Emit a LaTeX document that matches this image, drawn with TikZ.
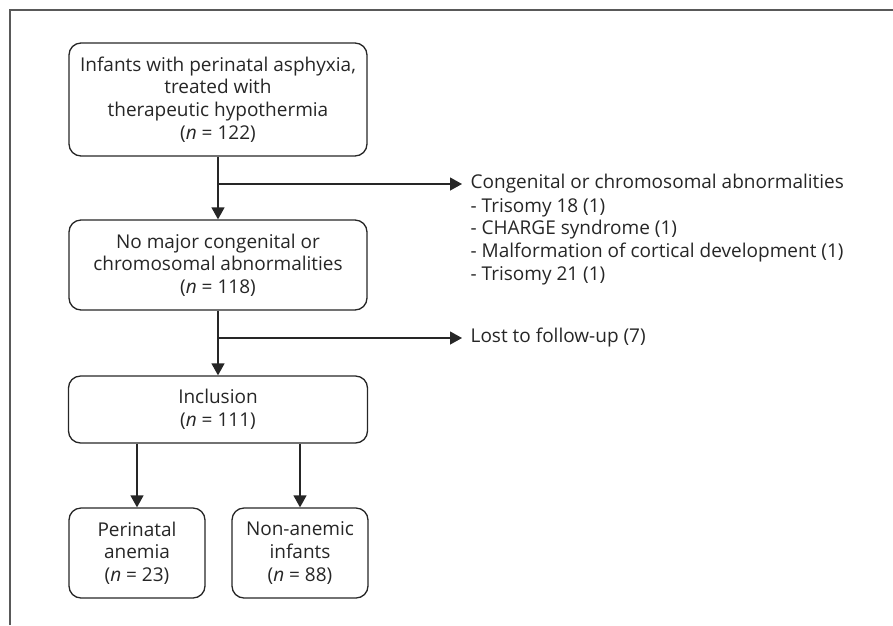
\documentclass[tikz,border=0pt]{standalone}
\usepackage{fontspec}
\setmainfont{Open Sans}
\usetikzlibrary{positioning}
\usetikzlibrary{arrows.meta}

\begin{document}
\begin{tikzpicture}[x=1pt, y=-1pt, line width=1.3pt, font=\fontsize{19}{22.7}\selectfont,
	box/.style={rounded corners=12pt, draw=black!85, align=center, inner sep=0pt, text=black!85},
	conn/.style={draw=black!85, -{Triangle[length=12pt, width=13pt]}},
	note/.style={align=left, inner sep=0pt, anchor=west, text=black!85}]
		\useasboundingbox (0,0) rectangle (893,625);
		\draw [black!65, line width=2pt] (10,625) -- (10,10) -- (893,10);
		% main column
		\node [box, minimum width=298pt, minimum height=113pt] (infants) at (218,99.5)
			{Infants with perinatal asphyxia,\\ treated with\\ therapeutic hypothermia\\ (\textit{n} = 122)};
		\node [box, minimum width=298pt, minimum height=90pt] (nomajor) at (218,265)
			{No major congenital or\\ chromosomal abnormalities\\ (\textit{n} = 118)};
		\node [box, minimum width=299pt, minimum height=67pt] (inclusion) at (218,409.5)
			{Inclusion\\ (\textit{n} = 111)};
		\node [box, minimum width=136pt, minimum height=90pt] (anemia) at (137,553)
			{Perinatal\\ anemia\\ (\textit{n} = 23)};
		\node [box, minimum width=136pt, minimum height=90pt] (nonanemic) at (300,553)
			{Non-anemic\\ infants\\ (\textit{n} = 88)};
		% side notes
		\node [note] (abnormal) at (470,184) {Congenital or chromosomal abnormalities};
		\node [note, anchor=north west, yshift=-3.5pt] (abnlist) at (abnormal.south west)
			{- Trisomy 18 (1)\\ - CHARGE syndrome (1)\\ - Malformation of cortical development (1)\\ - Trisomy 21 (1)};
		\node [note] (lost) at (470,338) {Lost to follow-up (7)};
		\coordinate (split1) at (infants.south |- abnormal.west);
		\coordinate (split2) at (nomajor.south |- lost.west);
		% connectors
		\draw [conn] (infants.south) -- (nomajor.north);
		\draw [conn, shorten >=8pt] (split1) -- (abnormal.west);
		\draw [conn] (nomajor.south) -- (inclusion.north);
		\draw [conn, shorten >=8pt] (split2) -- (lost.west);
		\draw [conn] (anemia.north |- inclusion.south) -- (anemia.north);
		\draw [conn] (nonanemic.north |- inclusion.south) -- (nonanemic.north);
	\end{tikzpicture}
\end{document}
